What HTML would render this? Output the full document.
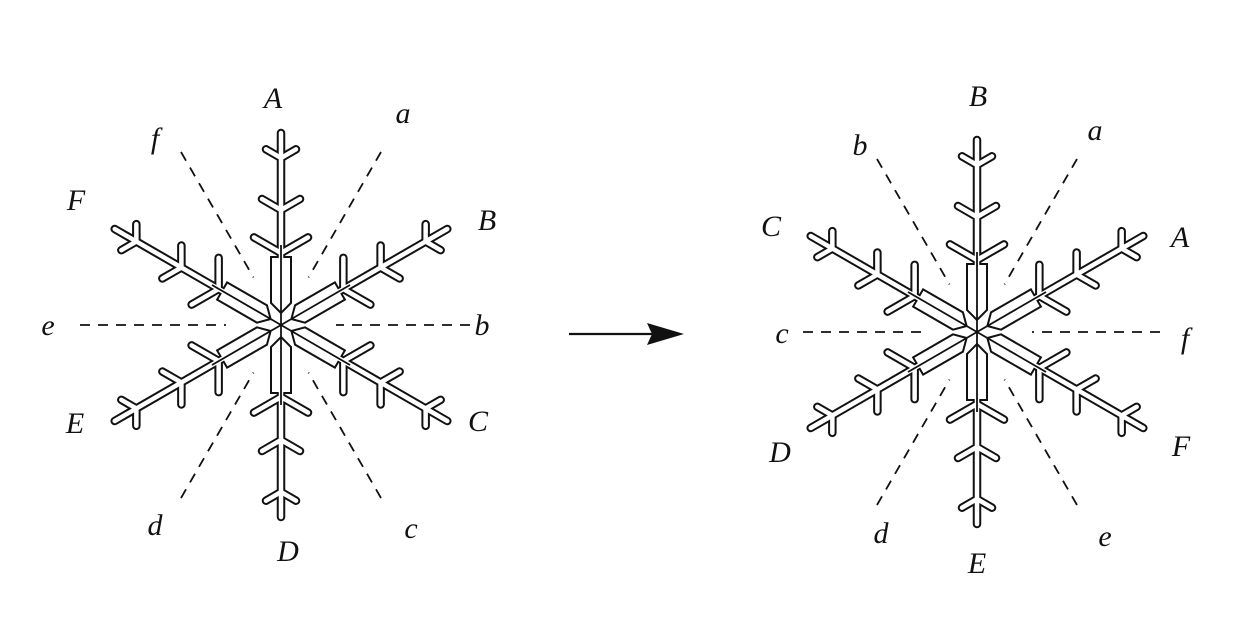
<!DOCTYPE html>
<html><head><meta charset="utf-8"><style>
html,body{margin:0;padding:0;background:#fff;}
svg{display:block;}
text{font-family:"Liberation Serif",serif;font-style:italic;font-size:30px;fill:#111;text-anchor:middle;}
</style></head><body>
<svg width="1248" height="626" viewBox="0 0 1248 626" xmlns="http://www.w3.org/2000/svg">
<defs>
<path id="ap" d="M0,-60 L0,-192 M0,-167 l15,-8.7 M0,-167 l-15,-8.7 M0,-115 l19,-11 M0,-115 l-19,-11 M0,-72 l27,-15.6 M0,-72 l-27,-15.6"/>
<g id="armB"><use href="#ap" stroke="#111" stroke-width="8.5" fill="none" stroke-linejoin="round" stroke-linecap="round"/></g>
<g id="armW"><use href="#ap" stroke="#fff" stroke-width="4.5" fill="none" stroke-linecap="round" stroke-linejoin="round"/></g>
<polygon id="plate" points="0,-12 -10,-22 -10,-68 10,-68 10,-22" fill="#fff" stroke="#111" stroke-width="2"/>
<g id="flake">
  <use href="#armB"/><use href="#armB" transform="rotate(60)"/><use href="#armB" transform="rotate(120)"/>
  <use href="#armB" transform="rotate(180)"/><use href="#armB" transform="rotate(240)"/><use href="#armB" transform="rotate(300)"/>
  <use href="#plate"/><use href="#plate" transform="rotate(60)"/><use href="#plate" transform="rotate(120)"/>
  <use href="#plate" transform="rotate(180)"/><use href="#plate" transform="rotate(240)"/><use href="#plate" transform="rotate(300)"/>
  <use href="#armW"/><use href="#armW" transform="rotate(60)"/><use href="#armW" transform="rotate(120)"/>
  <use href="#armW" transform="rotate(180)"/><use href="#armW" transform="rotate(240)"/><use href="#armW" transform="rotate(300)"/>
  <g stroke="#111" stroke-width="1.8">
    <line x1="0" y1="0" x2="0" y2="-80"/><line x1="0" y1="0" x2="0" y2="80"/>
    <line x1="0" y1="0" x2="69" y2="-40"/><line x1="0" y1="0" x2="-69" y2="40"/>
    <line x1="0" y1="0" x2="-69" y2="-40"/><line x1="0" y1="0" x2="69" y2="40"/>
  </g>
  <g stroke="#111" stroke-width="1.8" stroke-dasharray="10,8" fill="none">
    <line x1="100" y1="-173" x2="27.5" y2="-47.6"/><line x1="-100" y1="-173" x2="-27.5" y2="-47.6"/>
    <line x1="100" y1="173" x2="27.5" y2="47.6"/><line x1="-100" y1="173" x2="-27.5" y2="47.6"/>
  </g>
</g>
</defs>

<use href="#flake" transform="translate(281,325)"/>
<use href="#flake" transform="translate(977,332)"/>
<g stroke="#111" stroke-width="1.8" stroke-dasharray="10,8" fill="none">
  <line x1="80" y1="325" x2="226" y2="325"/><line x1="470" y1="325" x2="336" y2="325"/>
  <line x1="803" y1="332" x2="922" y2="332"/><line x1="1160" y1="332" x2="1032" y2="332"/>
</g>

<line x1="569" y1="334" x2="652" y2="334" stroke="#111" stroke-width="2.2"/>
<polygon points="647,323 684,334 647,345 652,334" fill="#111"/>

<text x="273" y="108">A</text>
<text x="403" y="123">a</text>
<text x="155" y="148">f</text>
<text x="76" y="210">F</text>
<text x="487" y="230">B</text>
<text x="48" y="335">e</text>
<text x="482" y="335">b</text>
<text x="75" y="433">E</text>
<text x="478" y="431">C</text>
<text x="155" y="535">d</text>
<text x="411" y="538">c</text>
<text x="288" y="561">D</text>

<text x="978" y="106">B</text>
<text x="1095" y="140">a</text>
<text x="860" y="155">b</text>
<text x="771" y="236">C</text>
<text x="1180" y="247">A</text>
<text x="782" y="343">c</text>
<text x="1185" y="348">f</text>
<text x="780" y="462">D</text>
<text x="1181" y="456">F</text>
<text x="881" y="543">d</text>
<text x="1105" y="546">e</text>
<text x="977" y="573">E</text>
</svg>
</body></html>
